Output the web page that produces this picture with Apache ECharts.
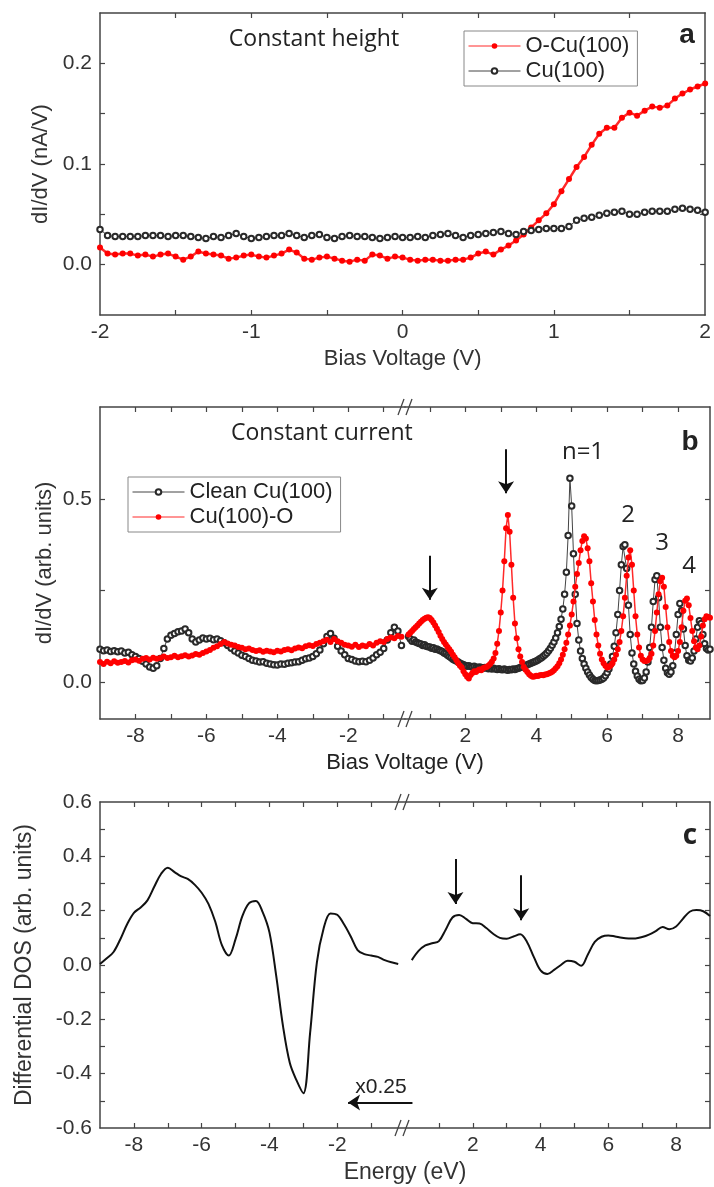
<!DOCTYPE html>
<html>
<head>
<meta charset="utf-8">
<title>dI/dV spectra Cu(100) / O-Cu(100)</title>
<script src="https://cdn.jsdelivr.net/npm/echarts@6.0.0/dist/echarts.min.js"></script>
<style>
  html, body { margin: 0; padding: 0; background: #fff; }
  #spectra { width: 714px; height: 1187px; }
</style>
</head>
<body>
<div id="spectra"></div>
<script>
// ---------- panel a : constant height, bias -2 .. 2 V (0.05 V step)
const aBiasStart = -2, aBiasStep = 0.05;
const aOxide = [
  0.017,0.011,0.010,0.011,0.011,0.009,0.010,0.008,0.010,0.011,
  0.008,0.005,0.008,0.013,0.011,0.010,0.009,0.006,0.007,0.009,
  0.010,0.008,0.007,0.009,0.011,0.015,0.012,0.006,0.005,0.007,
  0.008,0.006,0.004,0.003,0.005,0.004,0.010,0.009,0.006,0.008,
  0.007,0.005,0.004,0.005,0.005,0.004,0.004,0.005,0.005,0.007,
  0.011,0.013,0.010,0.015,0.019,0.024,0.030,0.037,0.044,0.051,
  0.060,0.073,0.085,0.097,0.107,0.119,0.130,0.136,0.136,0.146,
  0.151,0.148,0.153,0.157,0.156,0.158,0.165,0.170,0.174,0.177,
  0.180];
const aClean = [
  0.035,0.029,0.028,0.028,0.028,0.028,0.029,0.029,0.029,0.028,
  0.029,0.029,0.028,0.027,0.026,0.028,0.027,0.029,0.031,0.028,
  0.026,0.027,0.028,0.029,0.029,0.031,0.029,0.027,0.029,0.030,
  0.027,0.026,0.028,0.029,0.028,0.028,0.027,0.026,0.027,0.028,
  0.027,0.027,0.028,0.027,0.029,0.030,0.031,0.029,0.027,0.029,
  0.030,0.031,0.032,0.033,0.031,0.030,0.033,0.034,0.035,0.036,
  0.036,0.036,0.038,0.044,0.046,0.047,0.049,0.051,0.052,0.053,
  0.050,0.050,0.052,0.053,0.053,0.053,0.055,0.056,0.055,0.054,
  0.052];

// ---------- panel b : constant current, negative side -9 .. -0.5 V (0.1 V step)
const bNegStart = -9, bNegStep = 0.1;
const bCleanNeg = [
  0.090,0.086,0.088,0.084,0.086,0.083,0.085,0.080,0.082,0.075,
  0.070,0.065,0.057,0.050,0.042,0.038,0.045,0.065,0.092,0.118,
  0.128,0.133,0.138,0.140,0.145,0.135,0.118,0.110,0.115,0.121,
  0.118,0.120,0.116,0.118,0.113,0.108,0.100,0.093,0.085,0.080,
  0.074,0.070,0.065,0.060,0.058,0.055,0.056,0.052,0.050,0.048,
  0.047,0.050,0.049,0.052,0.053,0.055,0.056,0.060,0.064,0.066,
  0.070,0.078,0.088,0.105,0.125,0.133,0.120,0.098,0.085,0.075,
  0.065,0.062,0.058,0.056,0.057,0.056,0.060,0.066,0.075,0.082,
  0.092,0.115,0.135,0.150,0.140,0.100];
const bOxideNeg = [
  0.055,0.050,0.056,0.052,0.057,0.053,0.055,0.058,0.054,0.060,
  0.062,0.059,0.064,0.066,0.062,0.067,0.064,0.066,0.070,0.066,
  0.068,0.072,0.068,0.071,0.074,0.070,0.073,0.077,0.075,0.080,
  0.084,0.088,0.094,0.098,0.104,0.110,0.106,0.102,0.100,0.096,
  0.094,0.090,0.092,0.088,0.085,0.087,0.083,0.086,0.084,0.082,
  0.086,0.084,0.088,0.090,0.087,0.092,0.095,0.093,0.098,0.101,
  0.099,0.104,0.108,0.112,0.116,0.110,0.118,0.112,0.108,0.102,
  0.100,0.097,0.102,0.096,0.100,0.098,0.104,0.100,0.108,0.112,
  0.110,0.118,0.122,0.120,0.126,0.124];

// positive side 0.4 .. 8.9 V (0.05 V step)
const bPosStart = 0.4, bPosStep = 0.05;
const bCleanPos = [
  0.125,0.118,0.112,0.115,0.110,0.108,0.106,0.104,0.100,0.102,
  0.098,0.097,0.096,0.093,0.094,0.090,0.091,0.088,0.086,0.084,
  0.080,0.078,0.074,0.070,0.067,0.063,0.060,0.058,0.055,0.052,
  0.050,0.048,0.046,0.044,0.045,0.043,0.042,0.044,0.041,0.040,
  0.042,0.040,0.038,0.040,0.039,0.037,0.039,0.036,0.038,0.036,
  0.035,0.037,0.035,0.034,0.036,0.034,0.033,0.035,0.034,0.036,
  0.035,0.037,0.038,0.040,0.042,0.044,0.046,0.048,0.050,0.052,
  0.054,0.056,0.058,0.061,0.064,0.067,0.071,0.075,0.080,0.086,
  0.093,0.101,0.110,0.121,0.135,0.152,0.172,0.200,0.240,0.300,
  0.400,0.556,0.480,0.350,0.240,0.160,0.115,0.085,0.065,0.050,
  0.038,0.028,0.020,0.013,0.008,0.005,0.004,0.005,0.006,0.008,
  0.012,0.018,0.026,0.036,0.050,0.070,0.098,0.135,0.185,0.250,
  0.320,0.370,0.375,0.310,0.210,0.130,0.080,0.050,0.030,0.017,
  0.008,0.004,0.005,0.012,0.028,0.055,0.095,0.150,0.220,0.280,
  0.290,0.230,0.150,0.095,0.060,0.038,0.026,0.022,0.028,0.045,
  0.080,0.130,0.185,0.215,0.195,0.145,0.100,0.072,0.060,0.058,
  0.066,0.085,0.118,0.150,0.168,0.160,0.130,0.105,0.092,0.088,
  0.090];
const bOxidePos = [
  0.130,0.135,0.140,0.145,0.150,0.155,0.160,0.165,0.170,0.173,
  0.176,0.177,0.175,0.170,0.163,0.155,0.146,0.137,0.127,0.118,
  0.110,0.103,0.096,0.090,0.083,0.075,0.068,0.060,0.052,0.045,
  0.040,0.030,0.022,0.015,0.010,0.020,0.025,0.030,0.028,0.032,
  0.035,0.033,0.038,0.040,0.042,0.045,0.050,0.056,0.065,0.080,
  0.105,0.140,0.190,0.250,0.330,0.420,0.456,0.410,0.320,0.230,
  0.160,0.120,0.090,0.070,0.055,0.042,0.034,0.028,0.022,0.018,
  0.015,0.016,0.018,0.017,0.019,0.020,0.019,0.021,0.022,0.024,
  0.026,0.029,0.033,0.038,0.044,0.052,0.062,0.075,0.090,0.108,
  0.130,0.155,0.185,0.220,0.260,0.295,0.325,0.360,0.385,0.398,
  0.392,0.365,0.330,0.270,0.220,0.170,0.130,0.100,0.078,0.062,
  0.052,0.045,0.040,0.042,0.046,0.052,0.062,0.075,0.090,0.110,
  0.140,0.180,0.230,0.290,0.340,0.360,0.320,0.250,0.180,0.130,
  0.095,0.072,0.062,0.058,0.058,0.060,0.066,0.078,0.100,0.140,
  0.190,0.240,0.275,0.285,0.260,0.205,0.150,0.110,0.085,0.072,
  0.068,0.072,0.085,0.110,0.150,0.195,0.222,0.228,0.210,0.175,
  0.140,0.112,0.095,0.090,0.100,0.125,0.155,0.172,0.180,0.178,
  0.176];

// ---------- panel c : differential DOS (0.2 eV step)
const cNegStart = -9, cPosStart = 0.2, cStep = 0.2;
const cDosNeg = [
  0.004,0.025,0.048,0.095,0.150,0.192,0.212,0.238,0.288,0.335,
  0.358,0.342,0.326,0.316,0.295,0.266,0.225,0.160,0.072,0.035,
  0.095,0.180,0.228,0.236,0.195,0.120,-0.040,-0.225,-0.360,-0.425,
  -0.472,-0.250,0.010,0.135,0.190,0.185,0.150,0.105,0.055,0.040,
  0.035,0.030,0.018,0.010,0.004];
const cDosPos = [
  0.018,0.052,0.072,0.080,0.088,0.130,0.175,0.184,0.170,0.154,
  0.153,0.136,0.115,0.100,0.097,0.105,0.113,0.085,0.030,-0.020,
  -0.033,-0.018,0.000,0.016,0.012,-0.003,0.040,0.085,0.104,0.109,
  0.105,0.100,0.098,0.098,0.103,0.112,0.125,0.140,0.132,0.142,
  0.170,0.196,0.202,0.198,0.180];

// ---------- ticks and labels
const aXTicks = [-1.5,-1,-0.5,0,0.5,1,1.5];
const aXLabels = [-2,-1,0,1,2];
const aYTicks = [0,0.05,0.1,0.15,0.2];
const aYLabels = [0,0.1,0.2];
const bXNegTicks = [-8,-7,-6,-5,-4,-3,-2,-1];
const bXNegLabels = [-8,-6,-4,-2];
const bXPosTicks = [1,2,3,4,5,6,7,8];
const bXPosLabels = [2,4,6,8];
const bYTicks = [0,0.25,0.5];
const bYLabels = [0,0.5];
const cXTicks = [-8,-7,-6,-5,-4,-3,-2,-1,1,2,3,4,5,6,7,8];
const cXLabels = [-8,-6,-4,-2,2,4,6,8];
const cYTicks = [-0.5,-0.4,-0.3,-0.2,-0.1,0,0.1,0.2,0.3,0.4,0.5];
const cYLabels = [-0.6,-0.4,-0.2,0,0.2,0.4,0.6];

const SANS = "'Liberation Sans', Arial, sans-serif";
const NARROW = "'Liberation Sans Narrow', 'Liberation Sans', Arial, sans-serif";
const NOTE = "'Open Sans', 'Noto Sans', sans-serif";
const RED = '#ff0000';
const DARK = '#2a2a2a';

function pairs(start, step, values) {
  return values.map((v, i) => [+(start + i * step).toFixed(3), v]);
}

// framed axis (ticks inside, like origin plots)
function frameAxis(o) {
  return {
    type: 'value',
    gridIndex: o.grid,
    position: o.pos,
    min: o.min,
    max: o.max,
    name: o.name || '',
    nameLocation: 'middle',
    nameGap: o.nameGap || 30,
    nameTextStyle: { fontSize: o.nameSize || 22, fontFamily: o.font || SANS, color: '#333' },
    axisLine: { show: true, onZero: false, lineStyle: { color: '#444', width: 1.5 } },
    axisTick: { show: true, inside: true, length: 5, customValues: o.ticks, lineStyle: { color: '#444', width: 1.2 } },
    axisLabel: o.labels ? {
      show: true, customValues: o.labels, margin: o.margin || 8,
      fontSize: 21, fontFamily: o.font || SANS, color: '#333',
      formatter: o.fmt || (v => String(v))
    } : { show: false },
    splitLine: { show: false }
  };
}
const oneDecimal = v => Number(v).toFixed(1);

function redSeries(name, xi, yi, data, extra) {
  return Object.assign({
    name: name, type: 'line', xAxisIndex: xi, yAxisIndex: yi, data: data,
    symbol: 'circle', symbolSize: 6,
    itemStyle: { color: RED },
    lineStyle: { color: '#ff2a2a', width: 1.5 },
    emphasis: { disabled: true }, z: 3
  }, extra || {});
}
function blackSeries(name, xi, yi, data, extra) {
  return Object.assign({
    name: name, type: 'line', xAxisIndex: xi, yAxisIndex: yi, data: data,
    symbol: 'emptyCircle', symbolSize: 5.5,
    itemStyle: { color: DARK, borderWidth: 1 },
    lineStyle: { color: '#444', width: 1 },
    emphasis: { disabled: true }, z: 2
  }, extra || {});
}

function arrowLines(list) {
  return {
    silent: true, symbol: ['none', 'arrow'], symbolSize: 12,
    label: { show: false },
    lineStyle: { color: '#111', width: 2, type: 'solid' },
    data: list.map(a => [{ coord: a[0] }, { coord: a[1] }])
  };
}

// "//" break mark drawn across a frame edge
function breakMark(x, y) {
  return {
    type: 'group', x: x, y: y, z: 100,
    children: [
      { type: 'rect', shape: { x: -4, y: -3, width: 8, height: 6 }, style: { fill: '#fff' } },
      { type: 'line', shape: { x1: -7, y1: 8, x2: -1, y2: -8 }, style: { stroke: '#444', lineWidth: 1.3 } },
      { type: 'line', shape: { x1: 1, y1: 8, x2: 7, y2: -8 }, style: { stroke: '#444', lineWidth: 1.3 } }
    ]
  };
}
function note(text, x, y, size, font, weight, align) {
  return {
    type: 'text', x: x, y: y, z: 100,
    style: {
      text: text, fontSize: size, fontFamily: font, fontWeight: weight || 'normal',
      fill: '#222', align: align || 'center', verticalAlign: 'middle'
    }
  };
}

const legendBase = {
  orient: 'vertical', itemWidth: 52, itemHeight: 7, itemGap: 3, padding: [4, 8, 4, 4],
  borderColor: '#888', borderWidth: 1, selectedMode: false,
  lineStyle: { width: 1 },
  textStyle: { fontSize: 22, fontFamily: SANS, color: '#222' }
};

const chartDom = document.getElementById('spectra');
const myChart = echarts.init(chartDom);

let option = {
  backgroundColor: '#fff',
  animation: false,
  grid: [
    { left: 100, top: 13, width: 610, height: 302 },
    { left: 100, top: 407, width: 305, height: 312 },
    { left: 405, top: 407, width: 305, height: 312 },
    { left: 100, top: 802, width: 610, height: 326 }
  ],
  xAxis: [
    frameAxis({ grid: 0, pos: 'bottom', min: -2, max: 2, ticks: aXTicks, labels: aXLabels, margin: 7,
                name: 'Bias Voltage (V)', nameGap: 33 }),
    frameAxis({ grid: 0, pos: 'top', min: -2, max: 2, ticks: aXTicks }),
    frameAxis({ grid: 1, pos: 'bottom', min: -9, max: -0.4, ticks: bXNegTicks, labels: bXNegLabels, margin: 7 }),
    frameAxis({ grid: 1, pos: 'top', min: -9, max: -0.4, ticks: bXNegTicks }),
    frameAxis({ grid: 2, pos: 'bottom', min: 0.3, max: 8.9, ticks: bXPosTicks, labels: bXPosLabels, margin: 7 }),
    frameAxis({ grid: 2, pos: 'top', min: 0.3, max: 8.9, ticks: bXPosTicks }),
    frameAxis({ grid: 3, pos: 'bottom', min: -9, max: 9, ticks: cXTicks, labels: cXLabels, margin: 7,
                font: NARROW, name: 'Energy (eV)', nameGap: 33, nameSize: 23 }),
    frameAxis({ grid: 3, pos: 'top', min: -9, max: 9, ticks: cXTicks })
  ],
  yAxis: [
    frameAxis({ grid: 0, pos: 'left', min: -0.05, max: 0.25, ticks: aYTicks, labels: aYLabels, fmt: oneDecimal,
                name: 'dI/dV (nA/V)', nameGap: 42 }),
    frameAxis({ grid: 0, pos: 'right', min: -0.05, max: 0.25, ticks: aYTicks }),
    frameAxis({ grid: 1, pos: 'left', min: -0.1, max: 0.75, ticks: bYTicks, labels: bYLabels, fmt: oneDecimal,
                name: 'dI/dV (arb. units)', nameGap: 44 }),
    frameAxis({ grid: 2, pos: 'right', min: -0.1, max: 0.75, ticks: bYTicks }),
    frameAxis({ grid: 3, pos: 'left', min: -0.6, max: 0.6, ticks: cYTicks, labels: cYLabels, fmt: oneDecimal,
                font: NARROW, name: 'Differential DOS (arb. units)', nameGap: 64, nameSize: 23 }),
    frameAxis({ grid: 3, pos: 'right', min: -0.6, max: 0.6, ticks: cYTicks })
  ],
  legend: [
    Object.assign({ data: ['O-Cu(100)', 'Cu(100)'], left: 464, top: 31 }, legendBase),
    Object.assign({ data: ['Clean Cu(100)', 'Cu(100)-O'], left: 128, top: 477 }, legendBase)
  ],
  series: [
    // panel a
    redSeries('O-Cu(100)', 0, 0, pairs(aBiasStart, aBiasStep, aOxide), { lineStyle: { color: '#ff2a2a', width: 2.5 } }),
    blackSeries('Cu(100)', 0, 0, pairs(aBiasStart, aBiasStep, aClean), { z: 4 }),
    // panel b
    blackSeries('Clean Cu(100)', 2, 2, pairs(bNegStart, bNegStep, bCleanNeg)),
    redSeries('Cu(100)-O', 2, 2, pairs(bNegStart, bNegStep, bOxideNeg), { lineStyle: { color: '#ff2a2a', width: 3 } }),
    blackSeries('Clean Cu(100)', 4, 3, pairs(bPosStart, bPosStep, bCleanPos)),
    redSeries('Cu(100)-O', 4, 3, pairs(bPosStart, bPosStep, bOxidePos), {
      markLine: arrowLines([[[1.0, 0.345], [1.0, 0.225]], [[3.15, 0.635], [3.15, 0.515]]])
    }),
    // panel c
    {
      name: 'DOS-', type: 'line', xAxisIndex: 6, yAxisIndex: 4, data: pairs(cNegStart, cStep, cDosNeg),
      smooth: 0.35, showSymbol: false, lineStyle: { color: '#111', width: 2 }, emphasis: { disabled: true }
    },
    {
      name: 'DOS+', type: 'line', xAxisIndex: 6, yAxisIndex: 4, data: pairs(cPosStart, cStep, cDosPos),
      smooth: 0.35, showSymbol: false, lineStyle: { color: '#111', width: 2 }, emphasis: { disabled: true },
      markLine: arrowLines([[[1.49, 0.39], [1.49, 0.225]], [[3.43, 0.33], [3.43, 0.165]], [[0.22, -0.506], [-1.68, -0.506]]])
    }
  ],
  graphic: [
    note('Constant height', 314, 39, 23, NOTE),
    note('a', 687, 35, 28, SANS, 'bold'),
    note('Constant current', 231, 433, 23, NOTE, 'normal', 'left'),
    note('b', 690, 442, 28, SANS, 'bold'),
    note('n=1', 583, 452, 24, NOTE),
    note('2', 628, 515, 24, NOTE),
    note('3', 662, 543, 24, NOTE),
    note('4', 689, 566, 24, NOTE),
    note('Bias Voltage (V)', 405, 763, 22, SANS),
    note('c', 690, 836, 28, NOTE, 'bold'),
    note('x0.25', 381, 1087, 21, NARROW),
    breakMark(405, 407),
    breakMark(405, 719),
    breakMark(402, 802),
    breakMark(402, 1128)
  ]
};

option && myChart.setOption(option);
</script>
</body>
</html>
